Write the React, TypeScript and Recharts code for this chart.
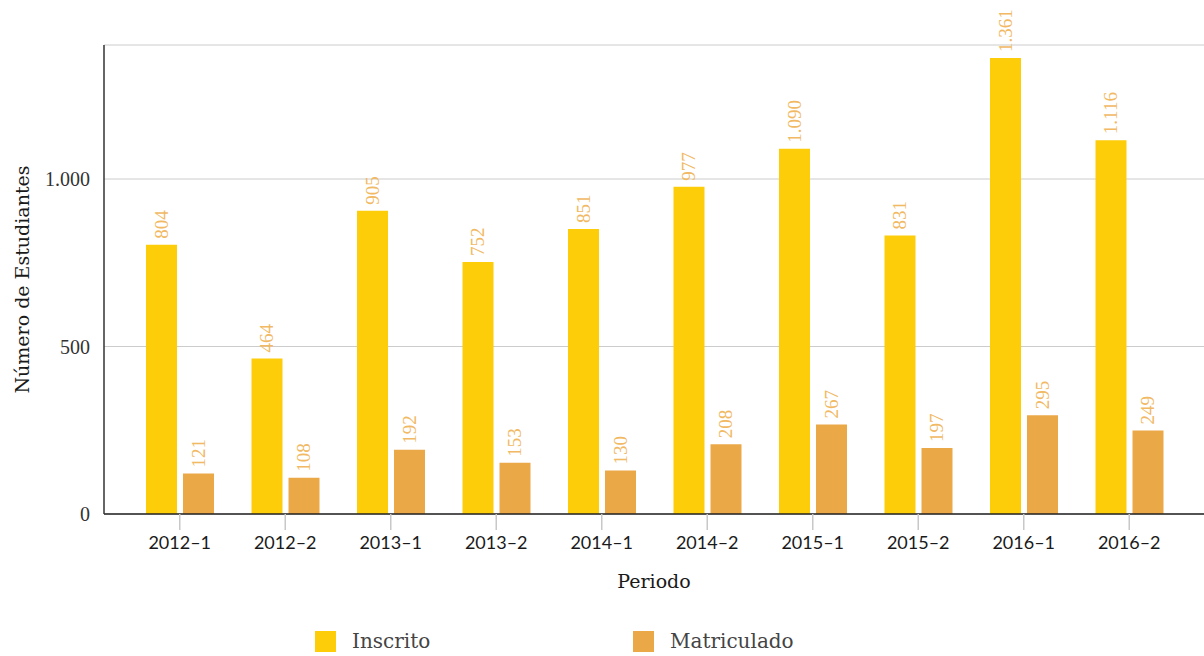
import React from 'react';
import { BarChart, Bar, XAxis, YAxis, CartesianGrid, LabelList, Legend } from 'recharts';

const periods = ['2012–1', '2012–2', '2013–1', '2013–2', '2014–1', '2014–2', '2015–1', '2015–2', '2016–1', '2016–2'];
const inscrito = [804, 464, 905, 752, 851, 977, 1090, 831, 1361, 1116];
const matriculado = [121, 108, 192, 153, 130, 208, 267, 197, 295, 249];
const yTicks = [0, 500, 1000];

const COLOR_INS = '#fecd0a';
const COLOR_MAT = '#eba846';
const LABEL_COLOR = '#f1b964';
const SERIF = 'Liberation Serif, Times New Roman, serif';

const data = periods.map((p, i) => ({ periodo: p, Inscrito: inscrito[i], Matriculado: matriculado[i] }));

const fmt = (v: number) => v.toString().replace(/\B(?=(\d{3})+(?!\d))/g, '.');

const ValueLabel = (props: any) => {
  const { x, y, width, value } = props;
  const cx = x + width / 2;
  const cy = y - 6;
  return (
    <text
      x={cx}
      y={cy}
      transform={`rotate(-90 ${cx} ${cy})`}
      textAnchor="start"
      dominantBaseline="central"
      fill={LABEL_COLOR}
      fontFamily={SERIF}
      fontSize={19}
    >
      {fmt(value)}
    </text>
  );
};

const LegendContent = () => (
  <div style={{ display: 'flex', fontFamily: "'DejaVu Serif', serif", fontSize: 20, color: '#444', fontWeight: 300 }}>
    <div style={{ display: 'flex', alignItems: 'center', width: 318 }}>
      <span style={{ display: 'inline-block', width: 21, height: 21, background: COLOR_INS, marginRight: 16 }} />
      <span>Inscrito</span>
    </div>
    <div style={{ display: 'flex', alignItems: 'center' }}>
      <span style={{ display: 'inline-block', width: 21, height: 21, background: COLOR_MAT, marginRight: 16 }} />
      <span>Matriculado</span>
    </div>
  </div>
);

export default function App() {
  return (
    <div style={{ position: 'absolute', left: 0, top: 0, width: 1204, height: 656, background: '#fff' }}>
      <BarChart
        width={1204}
        height={656}
        data={data}
        margin={{ top: 45, right: 0, left: 0, bottom: 62 }}
        barSize={31}
        barGap={6}
      >
        <CartesianGrid vertical={false} stroke="#cccccc" strokeWidth={1} />
        <XAxis
          dataKey="periodo"
          padding={{ left: 23, right: 22 }}
          height={80}
          axisLine={{ stroke: '#222', strokeWidth: 1.5 }}
          tickLine={{ stroke: '#c8c8c8', strokeWidth: 1.5 }}
          tickSize={16}
          tickMargin={6}
          tick={{ fill: '#1a1a1a', fontFamily: 'Lato, sans-serif', fontSize: 18 }}
          interval={0}
          label={{
            value: 'Periodo',
            position: 'center',
            dy: 27,
            fill: '#1a1a1a',
            fontFamily: "'DejaVu Serif', serif",
            fontSize: 19,
          }}
        />
        <YAxis
          domain={[0, 1400]}
          ticks={yTicks}
          width={104}
          tickFormatter={fmt}
          axisLine={{ stroke: '#333', strokeWidth: 1.5 }}
          tickLine={false}
          tickMargin={8}
          tick={{ fill: '#333', fontFamily: SERIF, fontSize: 20 }}
          label={{
            value: 'Número de Estudiantes',
            angle: -90,
            position: 'center',
            dx: -30,
            fill: '#1a1a1a',
            fontFamily: "'DejaVu Serif', serif",
            fontSize: 19,
          }}
        />
        <Legend
          layout="horizontal"
          verticalAlign="middle"
          align="center"
          wrapperStyle={{ top: 629, left: 315, width: 600 }}
          content={<LegendContent />}
        />
        <Bar dataKey="Inscrito" fill={COLOR_INS} isAnimationActive={false}>
          <LabelList dataKey="Inscrito" content={<ValueLabel />} />
        </Bar>
        <Bar dataKey="Matriculado" fill={COLOR_MAT} isAnimationActive={false}>
          <LabelList dataKey="Matriculado" content={<ValueLabel />} />
        </Bar>
      </BarChart>
    </div>
  );
}
